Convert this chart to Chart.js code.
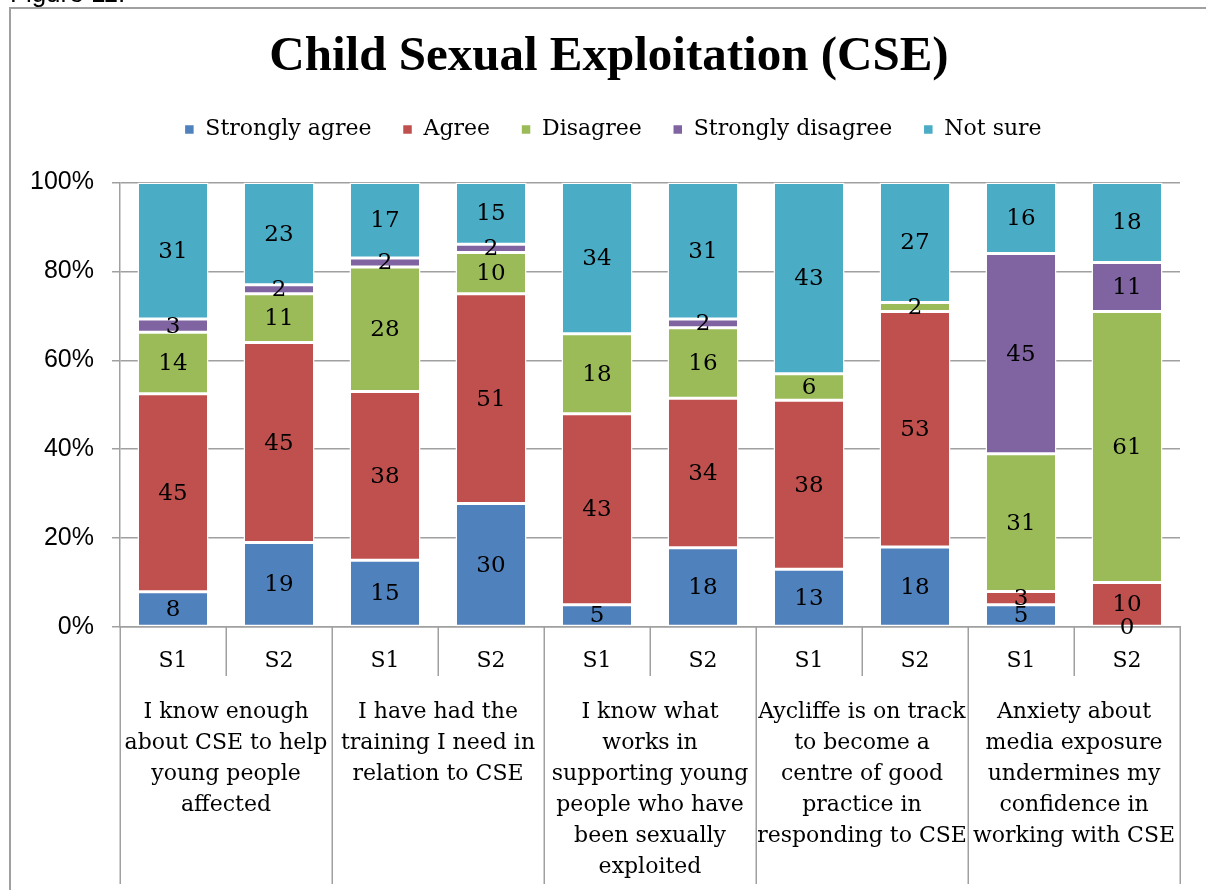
<!DOCTYPE html>
<html>
<head>
<meta charset="utf-8">
<script src="https://cdn.jsdelivr.net/npm/chart.js@4/dist/chart.umd.min.js"></script>
<style>
  html, body { margin: 0; padding: 0; background: #fff; }
  #wrap { width: 1206px; height: 890px; position: relative; }
</style>
</head>
<body>
<div id="wrap"><canvas id="c" width="1206" height="890"></canvas></div>
<script>
// ---- data ----
const chartTitle = 'Child Sexual Exploitation (CSE)';
const categories = ['S1', 'S2', 'S1', 'S2', 'S1', 'S2', 'S1', 'S2', 'S1', 'S2'];
const groupLabels = [
  ['I know enough', 'about CSE to help', 'young people', 'affected'],
  ['I have had the', 'training I need in', 'relation to CSE'],
  ['I know what', 'works in', 'supporting young', 'people who have', 'been sexually', 'exploited'],
  ['Aycliffe is on track', 'to become a', 'centre of good', 'practice in', 'responding to CSE'],
  ['Anxiety about', 'media exposure', 'undermines my', 'confidence in', 'working with CSE']
];
const seriesNames = ['Strongly agree', 'Agree', 'Disagree', 'Strongly disagree', 'Not sure'];
const stronglyAgree    = [8, 19, 15, 30, 5, 18, 13, 18, 5, 0];
const agree            = [45, 45, 38, 51, 43, 34, 38, 53, 3, 10];
const disagree         = [14, 11, 28, 10, 18, 16, 6, 2, 31, 61];
const stronglyDisagree = [3, 2, 2, 2, null, 2, null, null, 45, 11];
const notSure          = [31, 23, 17, 15, 34, 31, 43, 27, 16, 18];
const yTicks = [0, 20, 40, 60, 80, 100];
const colors = ['#4F81BD', '#C0504D', '#9BBB59', '#8064A2', '#4BACC6'];

// ---- build ----
const allSeries = [stronglyAgree, agree, disagree, stronglyDisagree, notSure];
const totals = categories.map((_, i) => allSeries.reduce((s, arr) => s + (arr[i] || 0), 0));
const datasets = allSeries.map((arr, k) => ({
  label: seriesNames[k],
  data: arr.map((v, i) => v === null ? null : v / totals[i] * 100),
  rawValues: arr,
  backgroundColor: colors[k],
  borderColor: '#ffffff',
  borderWidth: 1.5,
  borderSkipped: false,
  barPercentage: 0.67,
  categoryPercentage: 1.0
}));

const serif = '"DejaVu Serif", serif';
const gridColor = '#a0a0a0';

const framePlugin = {
  id: 'frame',
  beforeDraw(chart) {
    const ctx = chart.ctx;
    ctx.save();
    ctx.fillStyle = '#fff';
    ctx.fillRect(0, 0, chart.width, chart.height);
    ctx.strokeStyle = gridColor;
    ctx.lineWidth = 2;
    ctx.beginPath();
    ctx.moveTo(10, 890);
    ctx.lineTo(10, 8);
    ctx.lineTo(1206, 8);
    ctx.stroke();
    ctx.fillStyle = '#000';
    ctx.font = '26px "Liberation Sans", Arial, sans-serif';
    ctx.textBaseline = 'alphabetic';
    ctx.textAlign = 'left';
    ctx.fillText('Figure 11.', 10, 2);
    ctx.restore();
  }
};

const legendSpace = {
  id: 'legendSpace',
  beforeInit(chart) {
    const origFit = chart.legend.fit;
    chart.legend.fit = function () {
      origFit.bind(chart.legend)();
      this.height += 32;
    };
  },
  afterLayout(chart) {
    // centre title and legend on the outer chart frame
    if (chart.titleBlock) { chart.titleBlock.left = 38; }
    if (chart.legend) { chart.legend.left = 46; }
  }
};

const valueLabels = {
  id: 'valueLabels',
  afterDatasetsDraw(chart) {
    const ctx = chart.ctx;
    ctx.save();
    ctx.font = '23px ' + serif;
    ctx.fillStyle = '#000';
    ctx.textAlign = 'center';
    ctx.textBaseline = 'middle';
    chart.data.datasets.forEach((ds, di) => {
      const meta = chart.getDatasetMeta(di);
      meta.data.forEach((el, i) => {
        const v = ds.rawValues[i];
        if (v === null || v === undefined) return;
        ctx.fillText(String(v), el.x, (el.y + el.base) / 2 + 1);
      });
    });
    ctx.restore();
  }
};

const groupAxis = {
  id: 'groupAxis',
  afterDraw(chart) {
    const ctx = chart.ctx;
    const area = chart.chartArea;
    const n = categories.length;
    const catW = (area.right - area.left) / n;
    ctx.save();
    ctx.strokeStyle = gridColor;
    ctx.lineWidth = 1.5;
    for (let i = 0; i <= n; i++) {
      const x = Math.round(area.left + i * catW) + 0.25;
      const yEnd = (i % 2 === 0) ? 884 : 676;
      ctx.beginPath();
      ctx.moveTo(x, area.bottom);
      ctx.lineTo(x, yEnd);
      ctx.stroke();
    }
    ctx.font = '22px ' + serif;
    ctx.fillStyle = '#000';
    ctx.textAlign = 'center';
    ctx.textBaseline = 'middle';
    groupLabels.forEach((lines, g) => {
      const cx = area.left + (g * 2 + 1) * catW;
      lines.forEach((t, li) => {
        ctx.fillText(t, cx, 712 + li * 31);
      });
    });
    ctx.restore();
  }
};

new Chart(document.getElementById('c'), {
  type: 'bar',
  data: { labels: categories, datasets },
  plugins: [framePlugin, legendSpace, valueLabels, groupAxis],
  options: {
    responsive: false,
    animation: false,
    devicePixelRatio: 1,
    layout: { padding: { left: 20, right: 26, top: 8, bottom: 0 } },
    plugins: {
      title: {
        display: true,
        text: chartTitle,
        color: '#000',
        font: { family: '"Liberation Serif", "Times New Roman", serif', size: 49, weight: 'bold', lineHeight: 1.0 },
        padding: { top: 25, bottom: 5.5 }
      },
      legend: {
        display: true,
        position: 'top',
        labels: {
          color: '#000',
          font: { family: serif, size: 22 },
          boxWidth: 10,
          boxHeight: 10,
          padding: 31
        }
      },
      tooltip: { enabled: false }
    },
    scales: {
      x: {
        stacked: true,
        afterFit(scale) { scale.height = 263; },
        grid: { display: false, drawTicks: false },
        border: { display: true, color: gridColor, width: 1.5 },
        ticks: { color: '#000', font: { family: serif, size: 22 }, padding: 21, maxRotation: 0, autoSkip: false }
      },
      y: {
        stacked: true,
        min: 0,
        max: 100,
        afterFit(scale) { scale.width = 100; },
        afterBuildTicks(scale) { scale.ticks = yTicks.map(v => ({ value: v })); },
        grid: { color: gridColor, lineWidth: 1.5, tickLength: 8, drawTicks: true },
        border: { display: true, color: gridColor, width: 1.5 },
        ticks: {
          color: '#000',
          font: { family: '"Liberation Sans", Arial, sans-serif', size: 25 },
          padding: 18,
          callback: v => v + '%'
        }
      }
    }
  }
});
</script>
</body>
</html>
